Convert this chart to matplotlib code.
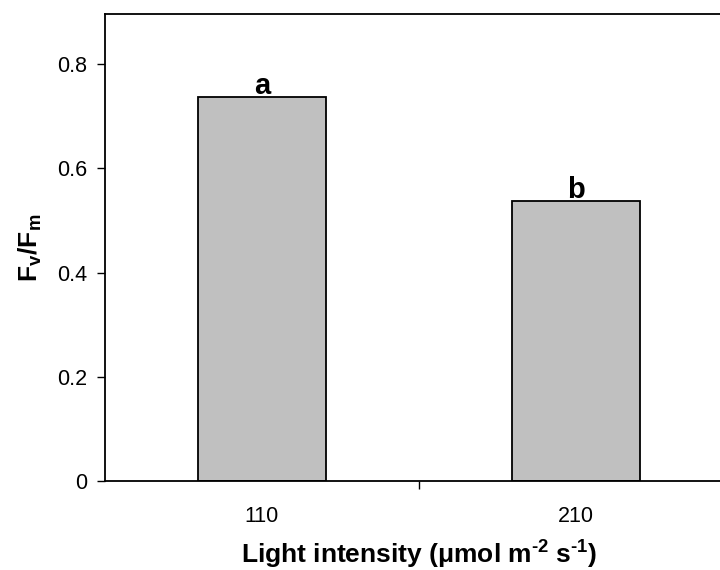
import matplotlib
matplotlib.use('Agg')
import matplotlib.pyplot as plt
from matplotlib.ticker import FixedLocator, NullFormatter

plt.rcParams['font.family'] = ['Liberation Sans', 'DejaVu Sans']

categorias = ['110', '210']
fvfm = [0.737, 0.537]
letras = ['a', 'b']
yticks = [0, 0.2, 0.4, 0.6, 0.8]
ytick_labels = ['0', '0.2', '0.4', '0.6', '0.8']

fig = plt.figure(figsize=(7.2, 5.7), dpi=100)
ax = fig.add_axes([105 / 720, 89 / 570, 628 / 720, 467 / 570])

x = list(range(len(categorias)))
ax.bar(x, fvfm, width=0.405, color='#c0c0c0', edgecolor='black', linewidth=1.3, zorder=2)

for xi, v, l in zip(x, fvfm, letras):
    ax.text(xi, v - 0.006, l, ha='center', va='bottom', fontsize=21, fontweight='bold')

ax.set_xlim(-0.5, 1.5)
ax.set_ylim(0, 0.896)

ax.set_yticks(yticks)
ax.set_yticklabels(ytick_labels, fontsize=15.5)
ax.tick_params(axis='y', direction='out', length=6, width=1, pad=7)

# tick mark between categories, labels at the category centres
ax.xaxis.set_major_locator(FixedLocator([0.5]))
ax.xaxis.set_major_formatter(NullFormatter())
ax.tick_params(axis='x', which='major', direction='out', length=6, width=1)
ax.xaxis.set_minor_locator(FixedLocator(x))
ax.set_xticklabels(categorias, minor=True, fontsize=15.5)
ax.tick_params(axis='x', which='minor', length=0, pad=18)

guion = '\u2010'
ax.set_xlabel('Light intensity ($\\mathregular{\\mu}$mol m$^{\\mathregular{' + guion + '2}}$ s$^{\\mathregular{' + guion + '1}}$)',
              fontsize=19, fontweight='bold', labelpad=7.5)
ax.set_ylabel(r'F$_{\mathregular{v}}$/F$_{\mathregular{m}}$', fontsize=19, fontweight='bold', labelpad=9)

for s in ax.spines.values():
    s.set_linewidth(1.3)

fig.savefig('out.png', dpi=100)
